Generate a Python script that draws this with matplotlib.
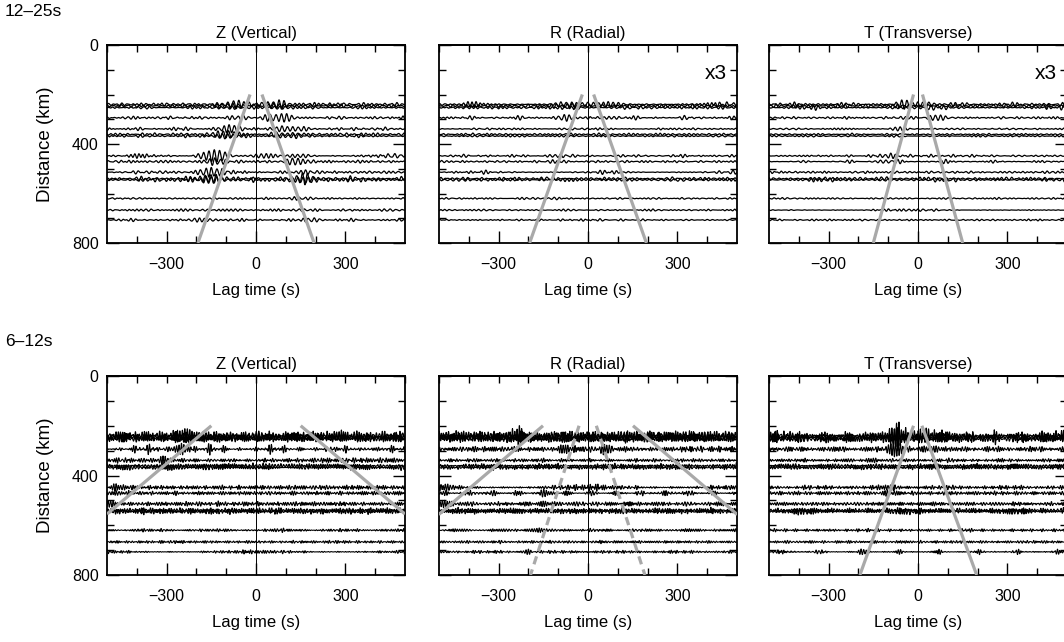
import numpy as np
import matplotlib as mpl

mpl.use('Agg')

import matplotlib.pyplot as plt
from matplotlib.ticker import MultipleLocator, FixedLocator

plt.rcParams['font.family'] = ['Liberation Sans', 'DejaVu Sans']

# station-pair distances (km), one trace each, same in every panel
distances = [240, 246, 253, 294, 339, 361, 368, 448, 471, 514, 540, 545, 620, 667, 707]

band_labels = ['12\u201325s', '6\u201312s']
band_edges = [(12.0, 25.0), (6.0, 12.0)]   # period band (s)
band_periods = [18.0, 8.0]                 # dominant period in each band (s)
components = ['Z (Vertical)', 'R (Radial)', 'T (Transverse)']
gain_labels = [['', 'x3', 'x3'], ['', '', '']]

# background noise level of every trace (km on the distance axis)
bg_long_z = [6, 5, 4, 5, 5, 5, 4, 5, 5, 5, 6, 6, 3, 4, 4]
bg_long_r = [6, 6, 5, 5, 3, 4, 3, 4, 4, 4, 5, 5, 3, 3, 3]
bg_long_t = [6, 6, 5, 4, 3, 3, 3, 4, 4, 4, 5, 5, 3, 3, 3]
bg_short_z = [16, 14, 11, 10, 8, 8, 8, 8, 7, 8, 9, 9, 5, 5, 5]
bg_short_r = [18, 16, 12, 10, 6, 7, 7, 8, 7, 8, 8, 8, 5, 5, 5]
bg_short_t = [17, 15, 12, 9, 6, 7, 7, 7, 7, 7, 8, 8, 5, 5, 5]

# wave packets: (trace distance, lag time, amplitude)
pk_long_z = [(240, -76, 14), (240, 76, 13), (246, -78, 10), (246, 78, 8),
             (253, -80, 6), (253, 80, 5), (294, -60, 8), (294, 85, 18),
             (339, -90, 16), (339, 105, 12), (361, -92, 14), (361, 105, 8),
             (368, -95, 10), (368, 108, 6), (448, -140, 24), (448, 140, 8),
             (471, -138, 14), (471, 140, 15), (514, -150, 20), (514, 150, 8),
             (540, -152, 16), (540, 155, 15), (545, -150, 12), (545, 158, 12),
             (620, -175, 4), (620, 165, 6), (667, -180, 4), (667, 180, 4),
             (707, -190, 8), (707, 195, 5)]
pk_long_r = [(240, -73, 10), (240, 66, 8), (246, -70, 7), (253, -75, 5),
             (294, -80, 8), (294, 70, 3), (339, -60, 3), (448, -110, 4),
             (471, -100, 5), (540, -120, 4), (620, -150, 3)]
pk_long_t = [(240, -55, 10), (240, 36, 6), (246, -50, 7), (253, -58, 5),
             (294, -40, 4), (294, 58, 8), (339, -60, 5), (448, -110, 6),
             (471, -108, 6), (540, -122, 6), (545, -118, 4)]
pk_short_z = [(240, -255, 20), (240, -215, 12), (240, 278, 12), (240, 307, 10),
              (246, -250, 16), (294, -250, 18), (294, -300, 10), (294, 255, 8),
              (339, -320, 14), (448, -470, 12), (514, -480, 12), (471, -460, 7)]
pk_short_r = [(240, -230, 28), (240, 208, 12), (246, -228, 18), (246, -83, 12),
              (294, -83, 22), (294, 63, 16), (294, -230, 12), (448, -470, 10),
              (514, -480, 10), (471, -140, 8), (514, -150, 8), (540, -30, 5),
              (620, -180, 7), (707, -200, 7), (448, -160, 6)]
pk_short_t = [(240, -72, 34), (246, -70, 20), (294, -75, 28), (294, 45, 12),
              (240, 35, 8), (448, -100, 10), (471, -95, 8), (339, -150, 6),
              (707, -190, 8), (540, -60, 5)]

# grey move-out guides: (lag at top, distance at top, lag at end, distance at end, dashed)
guide_long_z = [(-20, 200, -195, 800, False), (20, 200, 195, 800, False)]
guide_long_r = [(-19, 200, -196, 800, False), (19, 200, 196, 800, False)]
guide_long_t = [(-15, 200, -150, 800, False), (15, 200, 150, 800, False)]
guide_short_z = [(-150, 200, -500, 555, False), (150, 200, 500, 555, False)]
guide_short_r = [(-151, 200, -501, 557, False), (151, 200, 501, 557, False),
                 (-30, 200, -193, 800, True), (28, 200, 191, 800, True)]
guide_short_t = [(-15, 200, -195, 800, False), (13, 200, 197, 800, False)]

backgrounds = [[bg_long_z, bg_long_r, bg_long_t], [bg_short_z, bg_short_r, bg_short_t]]
packets = [[pk_long_z, pk_long_r, pk_long_t], [pk_short_z, pk_short_r, pk_short_t]]
guides = [[guide_long_z, guide_long_r, guide_long_t],
          [guide_short_z, guide_short_r, guide_short_t]]

lags = np.arange(-500, 500.25, 0.5)


def trace_wiggle(idx, r, level, pk_list, dist, n_comp):
    # band-limited texture: many cosines spread over the pass band
    t_lo, t_hi = band_edges[r]
    period = band_periods[r]
    ncos = 48
    k = np.arange(ncos)
    frac = (k * 0.618034 + idx * 0.2113 + n_comp * 0.377) % 1.0
    freqs = 1.0 / t_hi + frac * (1.0 / t_lo - 1.0 / t_hi)
    phases = 2.39996 * k * k * (idx + 2 + 7 * n_comp + 31 * r)
    s = np.cos(2 * np.pi * freqs[:, None] * lags[None, :] + phases[:, None]).sum(axis=0)
    w = level * s / np.sqrt(ncos / 2.0) / 2.0
    width = 2.0 * period if r == 0 else 2.4 * period
    for d, t0, amp in pk_list:
        if d == dist:
            w = w + amp * np.exp(-0.5 * ((lags - t0) / width) ** 2) * \
                np.cos(2 * np.pi * (lags - t0) / period)
    return w


fig = plt.figure(figsize=(10.64, 6.42), dpi=100)

col_left = [107, 439, 769]
row_top = [45, 376]
ax_w = 298
ax_h = [198, 199]
trace_lw = [0.9, 0.8]

for r in range(2):
    for c in range(3):
        ax = fig.add_axes([col_left[c] / 1064.0, 1 - (row_top[r] + ax_h[r]) / 642.0,
                           ax_w / 1064.0, ax_h[r] / 642.0])
        ax.set_xlim(-500, 500)
        ax.set_ylim(800, 0)

        ax.axvline(0, color='black', lw=0.7, zorder=1)

        for i, d in enumerate(distances):
            w = trace_wiggle(i, r, backgrounds[r][c][i], packets[r][c], d, c)
            ax.plot(lags, d - w, color='black', lw=trace_lw[r], zorder=2)

        for t0, d0, t1, d1, dashed in guides[r][c]:
            if dashed:
                ax.plot([t0, t1], [d0, d1], color='#a9a9a9', lw=2.3, zorder=3,
                        dashes=(2.6, 1.7), solid_capstyle='butt')
            else:
                ax.plot([t0, t1], [d0, d1], color='#a9a9a9', lw=2.3, zorder=3,
                        solid_capstyle='butt')

        ax.set_title(components[c], fontsize=12, pad=5)
        ax.set_xlabel('Lag time (s)', fontsize=12, labelpad=8)

        ax.xaxis.set_major_locator(FixedLocator([-300, 0, 300]))
        ax.xaxis.set_minor_locator(FixedLocator([-400, -200, -100, 100, 200, 400]))
        ax.yaxis.set_major_locator(FixedLocator([0, 400, 800]))
        ax.yaxis.set_minor_locator(MultipleLocator(100))
        ax.tick_params(which='both', direction='in', left=True, right=True,
                       top=False, bottom=True, labelsize=11.5, width=1.0)
        ax.tick_params(which='major', length=8.5, pad=6)
        ax.tick_params(axis='x', which='major', pad=10)
        ax.tick_params(which='minor', length=5)

        top = ax.secondary_xaxis('top')
        top.xaxis.set_major_locator(MultipleLocator(100))
        top.tick_params(direction='in', length=5, width=1.0, labeltop=False)
        top.spines['top'].set_linewidth(1.3)

        if c == 0:
            ax.set_ylabel('Distance (km)', fontsize=13.5, labelpad=13)
        else:
            ax.tick_params(labelleft=False)

        for sp in ax.spines.values():
            sp.set_linewidth(1.3)

        if gain_labels[r][c]:
            ax.text(0.965, 0.855, gain_labels[r][c], transform=ax.transAxes,
                    ha='right', va='center', fontsize=15)

    fig.text(5 / 1064.0, 1 - (row_top[r] - 34) / 642.0, band_labels[r],
             fontsize=12.5, ha='left', va='center')

fig.savefig('out.png', dpi=100)
